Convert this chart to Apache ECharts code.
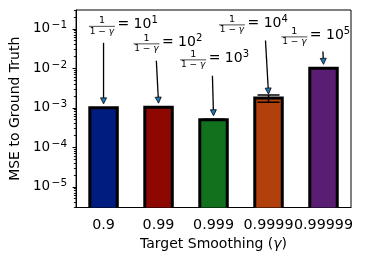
<!DOCTYPE html>
<html>
<head>
<meta charset="utf-8">
<script src="https://cdn.jsdelivr.net/npm/echarts@6/dist/echarts.min.js"></script>
<style>html,body{margin:0;padding:0;background:#fff;}#c{width:365px;height:263px;}</style>
</head>
<body>
<div id="c"></div>
<script>
// ---- data ----
const categories = ['0.9', '0.99', '0.999', '0.9999', '0.99999'];
const mse = [1.0e-3, 1.04e-3, 5.0e-4, 1.77e-3, 1.0e-2];
const errLow = [1.0e-3, 1.04e-3, 4.9e-4, 1.38e-3, 1.0e-2];
const errHigh = [1.0e-3, 1.04e-3, 5.15e-4, 2.13e-3, 1.0e-2];
const exponents = ['1', '2', '3', '4', '5'];
const majorTicks = [1e-5, 1e-4, 1e-3, 1e-2, 1e-1];
const minorTicks = [];
[1e-6, 1e-5, 1e-4, 1e-3, 1e-2, 1e-1].forEach(function (d) {
  for (let k = 2; k <= 9; k++) { const v = +(k * d).toPrecision(3); if (v >= 3.0e-6 && v <= 0.30) minorTicks.push(v); }
});
// annotation anchors (data space: offset in category bands, value on y axis)
const labelDx = [-0.03, -0.22, -0.37, -0.665, -0.53];
const labelY = [0.1157, 0.0417, 0.0164, 0.126, 0.0626];
const tailDx = [0, -0.04, -0.02, -0.055, -0.01];
const tailY = [0.0443, 0.0155, 0.00646, 0.0506, 0.0266];

const colors = ['#001c7f', '#8c0800', '#12711c', '#b1400d', '#591e71'];
const FONT = 'DejaVu Sans';

const chart = echarts.init(document.getElementById('c'), null, {renderer: 'canvas'});

function renderBar(params, api) {
  const i = api.value(0);
  const top = api.coord([i, api.value(1)]);
  const band = api.size([1, 0])[0];
  const w = band * 0.5;
  const cs = params.coordSys;
  const bottom = cs.y + cs.height + 6;
  return {
    type: 'rect',
    shape: {x: top[0] - w / 2, y: top[1], width: w, height: bottom - top[1]},
    style: {fill: colors[i], stroke: '#000', lineWidth: 3}
  };
}

function renderErr(params, api) {
  const i = api.value(0);
  const lo = api.coord([i, api.value(1)]);
  const hi = api.coord([i, api.value(2)]);
  if (Math.abs(lo[1] - hi[1]) < 0.5) return null;
  const cap = 11;
  const st = {stroke: '#000', lineWidth: 1.5};
  return {
    type: 'group',
    children: [
      {type: 'line', shape: {x1: lo[0], y1: lo[1], x2: hi[0], y2: hi[1]}, style: st},
      {type: 'line', shape: {x1: lo[0] - cap, y1: lo[1], x2: lo[0] + cap, y2: lo[1]}, style: st},
      {type: 'line', shape: {x1: hi[0] - cap, y1: hi[1], x2: hi[0] + cap, y2: hi[1]}, style: st}
    ]
  };
}

function renderAnno(params, api) {
  const i = api.value(0);
  const band = api.size([1, 0])[0];
  const xc = api.coord([i, mse[i]])[0];
  const barTop = api.coord([i, mse[i]])[1];
  const tx = xc + labelDx[i] * band;
  const ty = api.coord([i, labelY[i]])[1];
  const tail = [xc + tailDx[i] * band, api.coord([i, tailY[i]])[1]];
  const tip = [xc, barTop - 4];
  const dx = tip[0] - tail[0], dy = tip[1] - tail[1];
  const L = Math.sqrt(dx * dx + dy * dy);
  const ux = dx / L, uy = dy / L;
  const hl = 6, hw = 3;
  const bx = tip[0] - ux * hl, by = tip[1] - uy * hl;
  const px = -uy, py = ux;
  return {
    type: 'group',
    children: [
      {type: 'line', shape: {x1: tail[0], y1: tail[1], x2: bx, y2: by}, style: {stroke: '#000', lineWidth: 1.3}},
      {type: 'polygon', shape: {points: [[tip[0], tip[1]], [bx + px * hw, by + py * hw], [bx - px * hw, by - py * hw]]},
        style: {fill: '#1f77b4', stroke: '#000', lineWidth: 0.8}},
      {type: 'text', x: tx, y: ty - 0.5, style: {text: '1', font: '9.5px "' + FONT + '"', fill: '#000', align: 'center', verticalAlign: 'bottom'}},
      {type: 'line', shape: {x1: tx - 13, y1: ty, x2: tx + 13, y2: ty}, style: {stroke: '#000', lineWidth: 0.7}},
      {type: 'text', x: tx, y: ty + 0.5, style: {
        text: '{n|1 − }{g|γ}', align: 'center', verticalAlign: 'top',
        rich: {n: {fontFamily: FONT, fontSize: 9, fill: '#000'}, g: {fontFamily: FONT, fontSize: 9, fontStyle: 'italic', fill: '#000'}}
      }},
      {type: 'text', x: tx + 15.5, y: ty - 1.5, style: {
        text: '{m|= 10}{s|' + exponents[i] + '}', align: 'left', verticalAlign: 'middle',
        rich: {m: {fontFamily: FONT, fontSize: 14, fill: '#000'}, s: {fontFamily: FONT, fontSize: 10, fill: '#000', padding: [0, 0, 8, 0]}}
      }}
    ]
  };
}

const barData = mse.map(function (v, i) { return [i, v]; });
const errData = mse.map(function (v, i) { return [i, errLow[i], errHigh[i]]; });

const option = {
  animation: false,
  backgroundColor: '#fff',
  grid: {left: 73, right: 14, top: 10, bottom: 55.5, show: true, borderColor: '#000', borderWidth: 1, backgroundColor: 'transparent'},
  xAxis: {
    type: 'category', data: categories,
    axisLine: {lineStyle: {color: '#000', width: 1}},
    axisTick: {alignWithLabel: true, length: 3.5, lineStyle: {color: '#000'}},
    axisLabel: {interval: 0, color: '#000', fontFamily: FONT, fontSize: 14.3, margin: 11},
    name: 'Target Smoothing ({g|γ})', nameLocation: 'middle', nameGap: 30,
    nameTextStyle: {color: '#000', fontFamily: FONT, fontSize: 14, rich: {g: {fontFamily: FONT, fontSize: 14, fontStyle: 'italic', color: '#000'}}}
  },
  yAxis: [{
    type: 'log', logBase: 10, min: 3.0e-6, max: 0.30,
    axisLine: {show: true, lineStyle: {color: '#000', width: 1}},
    axisTick: {show: true, length: 3.5, customValues: majorTicks, lineStyle: {color: '#000'}},
    splitLine: {show: false},
    axisLabel: {
      customValues: majorTicks, margin: 9, color: '#000',
      formatter: function (v) {
        const e = Math.round(Math.log10(v));
        return '{b|10}{s|' + (e < 0 ? '−' : '') + Math.abs(e) + '}';
      },
      rich: {b: {fontFamily: FONT, fontSize: 13.5, color: '#000'}, s: {fontFamily: FONT, fontSize: 10.5, color: '#000', padding: [0, 0, 7, 1.5]}}
    },
    name: 'MSE to Ground Truth', nameLocation: 'middle', nameGap: 47,
    nameTextStyle: {color: '#000', fontFamily: FONT, fontSize: 14}
  }, {
    type: 'log', logBase: 10, min: 3.0e-6, max: 0.30, position: 'left',
    axisLine: {show: false},
    axisTick: {show: true, length: 2.2, customValues: minorTicks, lineStyle: {color: '#000', width: 0.9}},
    axisLabel: {show: false}, splitLine: {show: false}
  }],
  series: [
    {type: 'custom', renderItem: renderBar, data: barData, clip: true, z: 2},
    {type: 'custom', renderItem: renderErr, data: errData, clip: true, z: 3},
    {type: 'custom', renderItem: renderAnno, data: barData, clip: false, z: 4}
  ]
};
chart.setOption(option);
</script>
</body>
</html>
